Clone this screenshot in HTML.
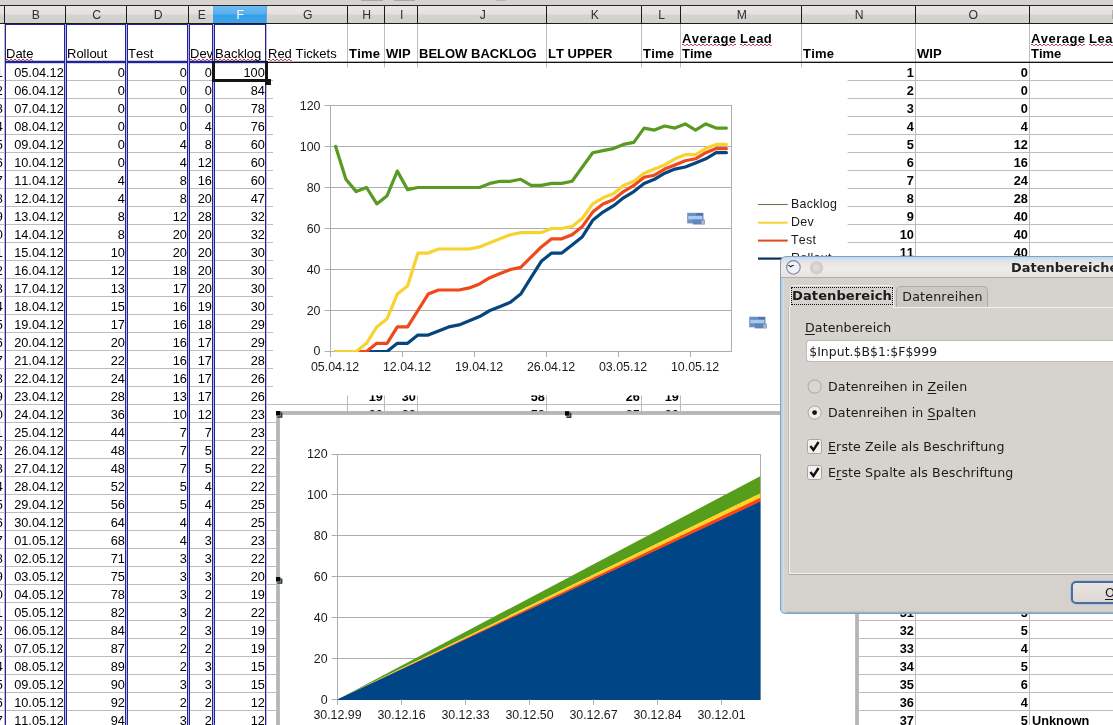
<!DOCTYPE html>
<html lang="de"><head><meta charset="utf-8"><title>Datenbereiche</title>
<style>
html,body{margin:0;padding:0;background:#fff;overflow:hidden}
body{width:1113px;height:725px}
#root{font-kerning:none;width:1113px;height:725px;overflow:hidden;position:relative;background:#fff;font-family:"Liberation Sans",sans-serif;font-size:13px;color:#000}
div,span{box-sizing:border-box}
.abs,.col,.hl,.vl,.hc,.h1,.bx{position:absolute}
.col{top:63.5px;text-align:right;white-space:nowrap;overflow:hidden;font-size:12.75px}
.col div{height:18px;line-height:18px;padding-right:1.2px}
.col.b{font-weight:bold}
.col.l{text-align:left}
.col.l div{padding-left:2px}
.hl{left:0;width:1113px;height:1px;background:#bdbdbd}
.vl{top:24px;width:1px;height:701px;background:#bdbdbd}
.hc{top:6px;height:17px;line-height:19.4px;text-align:center;color:#303030;font-size:12.2px;padding-left:1.5px;background:linear-gradient(#e9e6e3 0,#e4e1de 45%,#d3d3cf 55%,#d0d0cc 100%);border-right:1px solid #1c1c1c}
.h1{top:24px;height:37px;white-space:nowrap;overflow:hidden;font-weight:bold;padding-left:2px}
.h1 span{position:absolute;left:1px;bottom:0;line-height:15px}
.h1 span span{position:static}
.h1.n{font-weight:normal}
.w{background:repeating-linear-gradient(90deg,#b8324e 0 2px,transparent 2px 4px) 0 13px/100% 1px no-repeat,repeating-linear-gradient(90deg,transparent 0 2px,#c86078 2px 4px) 0 14px/100% 1px no-repeat}
.bx{border:1px solid #22229a}
#dlg{position:absolute;left:780px;top:256px;width:400px;height:358px;font-family:"DejaVu Sans",sans-serif;font-size:12.6px;color:#1a1a1a}
#dlg .abs{white-space:nowrap}
u{text-decoration-thickness:1px;text-underline-offset:2px}
</style></head><body><div id="root">

<div class="hl" style="top:80px"></div>
<div class="hl" style="top:98px"></div>
<div class="hl" style="top:116px"></div>
<div class="hl" style="top:134px"></div>
<div class="hl" style="top:152px"></div>
<div class="hl" style="top:170px"></div>
<div class="hl" style="top:188px"></div>
<div class="hl" style="top:206px"></div>
<div class="hl" style="top:224px"></div>
<div class="hl" style="top:242px"></div>
<div class="hl" style="top:260px"></div>
<div class="hl" style="top:278px"></div>
<div class="hl" style="top:296px"></div>
<div class="hl" style="top:314px"></div>
<div class="hl" style="top:332px"></div>
<div class="hl" style="top:350px"></div>
<div class="hl" style="top:368px"></div>
<div class="hl" style="top:386px"></div>
<div class="hl" style="top:404px"></div>
<div class="hl" style="top:422px"></div>
<div class="hl" style="top:440px"></div>
<div class="hl" style="top:458px"></div>
<div class="hl" style="top:476px"></div>
<div class="hl" style="top:494px"></div>
<div class="hl" style="top:512px"></div>
<div class="hl" style="top:530px"></div>
<div class="hl" style="top:548px"></div>
<div class="hl" style="top:566px"></div>
<div class="hl" style="top:584px"></div>
<div class="hl" style="top:602px"></div>
<div class="hl" style="top:620px"></div>
<div class="hl" style="top:638px"></div>
<div class="hl" style="top:656px"></div>
<div class="hl" style="top:674px"></div>
<div class="hl" style="top:692px"></div>
<div class="hl" style="top:710px"></div>
<div class="hl" style="top:728px"></div>
<div class="vl" style="left:4px"></div>
<div class="vl" style="left:65px"></div>
<div class="vl" style="left:126px"></div>
<div class="vl" style="left:188px"></div>
<div class="vl" style="left:213px"></div>
<div class="vl" style="left:266px"></div>
<div class="vl" style="left:347px"></div>
<div class="vl" style="left:384px"></div>
<div class="vl" style="left:417px"></div>
<div class="vl" style="left:546px"></div>
<div class="vl" style="left:641px"></div>
<div class="vl" style="left:680px"></div>
<div class="vl" style="left:801px"></div>
<div class="vl" style="left:915px"></div>
<div class="vl" style="left:1029px"></div>
<div class="h1 n" style="left:5px;width:60px"><span class="w">Date</span></div>
<div class="h1 n" style="left:66px;width:60px"><span class="">Rollout</span></div>
<div class="h1 n" style="left:127px;width:61px"><span class="">Test</span></div>
<div class="h1 n" style="left:189px;width:24px"><span class="w">Dev</span></div>
<div class="h1 n" style="left:214px;width:52px"><span class="w">Backlog</span></div>
<div class="h1 n" style="left:267px;width:80px"><span class=""><span class="w" style="position:static">Red</span> Tickets</span></div>
<div class="h1" style="left:348px;width:36px"><span class=""><span style="letter-spacing:.2px">Time</span></span></div>
<div class="h1" style="left:385px;width:32px"><span class="">WIP</span></div>
<div class="h1" style="left:418px;width:128px"><span class="">BELOW BACKLOG</span></div>
<div class="h1" style="left:547px;width:94px"><span class="">LT UPPER</span></div>
<div class="h1" style="left:642px;width:38px"><span class=""><span style="letter-spacing:.2px">Time</span></span></div>
<div class="h1" style="left:681px;width:120px"><span class=""><span class="w" style="letter-spacing:.45px">Average</span> <span class="w" style="letter-spacing:.45px">Lead</span><br>Time</span></div>
<div class="h1" style="left:802px;width:113px"><span class=""><span style="letter-spacing:.2px">Time</span></span></div>
<div class="h1" style="left:916px;width:113px"><span class="">WIP</span></div>
<div class="h1" style="left:1030px;width:170px"><span class=""><span class="w" style="letter-spacing:.45px">Average</span> <span class="w" style="letter-spacing:.45px">Lead</span><br>Time</span></div>
<div class="abs" style="left:267px;top:62px;width:846px;height:1px;background:#111"></div>
<div class="abs" style="left:267px;top:61px;width:846px;height:1px;background:rgba(0,0,0,.3)"></div>
<div class="col " style="left:-60px;width:64px"><div>1</div><div>2</div><div>3</div><div>4</div><div>5</div><div>6</div><div>7</div><div>8</div><div>9</div><div>10</div><div>11</div><div>12</div><div>13</div><div>14</div><div>15</div><div>16</div><div>17</div><div>18</div><div>19</div><div>20</div><div>21</div><div>22</div><div>23</div><div>24</div><div>25</div><div>26</div><div>27</div><div>28</div><div>29</div><div>30</div><div>31</div><div>32</div><div>33</div><div>34</div><div>35</div><div>36</div><div>37</div></div>
<div class="col " style="left:5px;width:60px"><div>05.04.12</div><div>06.04.12</div><div>07.04.12</div><div>08.04.12</div><div>09.04.12</div><div>10.04.12</div><div>11.04.12</div><div>12.04.12</div><div>13.04.12</div><div>14.04.12</div><div>15.04.12</div><div>16.04.12</div><div>17.04.12</div><div>18.04.12</div><div>19.04.12</div><div>20.04.12</div><div>21.04.12</div><div>22.04.12</div><div>23.04.12</div><div>24.04.12</div><div>25.04.12</div><div>26.04.12</div><div>27.04.12</div><div>28.04.12</div><div>29.04.12</div><div>30.04.12</div><div>01.05.12</div><div>02.05.12</div><div>03.05.12</div><div>04.05.12</div><div>05.05.12</div><div>06.05.12</div><div>07.05.12</div><div>08.05.12</div><div>09.05.12</div><div>10.05.12</div><div>11.05.12</div></div>
<div class="col " style="left:66px;width:60px"><div>0</div><div>0</div><div>0</div><div>0</div><div>0</div><div>0</div><div>4</div><div>4</div><div>8</div><div>8</div><div>10</div><div>12</div><div>13</div><div>15</div><div>17</div><div>20</div><div>22</div><div>24</div><div>28</div><div>36</div><div>44</div><div>48</div><div>48</div><div>52</div><div>56</div><div>64</div><div>68</div><div>71</div><div>75</div><div>78</div><div>82</div><div>84</div><div>87</div><div>89</div><div>90</div><div>92</div><div>94</div></div>
<div class="col " style="left:127px;width:61px"><div>0</div><div>0</div><div>0</div><div>0</div><div>4</div><div>4</div><div>8</div><div>8</div><div>12</div><div>20</div><div>20</div><div>18</div><div>17</div><div>16</div><div>16</div><div>16</div><div>16</div><div>16</div><div>13</div><div>10</div><div>7</div><div>7</div><div>7</div><div>5</div><div>5</div><div>4</div><div>4</div><div>3</div><div>3</div><div>3</div><div>3</div><div>2</div><div>2</div><div>2</div><div>3</div><div>2</div><div>3</div></div>
<div class="col " style="left:189px;width:24px"><div>0</div><div>0</div><div>0</div><div>4</div><div>8</div><div>12</div><div>16</div><div>20</div><div>28</div><div>20</div><div>20</div><div>20</div><div>20</div><div>19</div><div>18</div><div>17</div><div>17</div><div>17</div><div>17</div><div>12</div><div>7</div><div>5</div><div>5</div><div>4</div><div>4</div><div>4</div><div>3</div><div>3</div><div>3</div><div>2</div><div>2</div><div>3</div><div>2</div><div>3</div><div>3</div><div>2</div><div>2</div></div>
<div class="col " style="left:214px;width:52px"><div>100</div><div>84</div><div>78</div><div>76</div><div>60</div><div>60</div><div>60</div><div>47</div><div>32</div><div>32</div><div>30</div><div>30</div><div>30</div><div>30</div><div>29</div><div>29</div><div>28</div><div>26</div><div>26</div><div>23</div><div>23</div><div>22</div><div>22</div><div>22</div><div>25</div><div>25</div><div>23</div><div>22</div><div>20</div><div>19</div><div>22</div><div>19</div><div>19</div><div>15</div><div>15</div><div>12</div><div>12</div></div>
<div class="col b" style="left:348px;width:36px"><div>1</div><div>2</div><div>3</div><div>4</div><div>5</div><div>6</div><div>7</div><div>8</div><div>9</div><div>10</div><div>11</div><div>12</div><div>13</div><div>14</div><div>15</div><div>16</div><div>17</div><div>18</div><div>19</div><div>20</div><div>21</div><div>22</div><div>23</div><div>24</div><div>25</div><div>26</div><div>27</div><div>28</div><div>29</div><div>30</div><div>31</div><div>32</div><div>33</div><div>34</div><div>35</div><div>36</div><div>37</div></div>
<div class="col b" style="left:385px;width:32px"><div>0</div><div>0</div><div>0</div><div>4</div><div>12</div><div>16</div><div>24</div><div>28</div><div>40</div><div>40</div><div>40</div><div>38</div><div>37</div><div>35</div><div>34</div><div>33</div><div>33</div><div>33</div><div>30</div><div>22</div><div>14</div><div>12</div><div>12</div><div>9</div><div>9</div><div>8</div><div>7</div><div>6</div><div>6</div><div>5</div><div>5</div><div>5</div><div>4</div><div>5</div><div>6</div><div>4</div><div>5</div></div>
<div class="col b" style="left:418px;width:128px"><div>0</div><div>0</div><div>0</div><div>4</div><div>12</div><div>16</div><div>28</div><div>32</div><div>48</div><div>48</div><div>50</div><div>50</div><div>50</div><div>50</div><div>51</div><div>53</div><div>55</div><div>57</div><div>58</div><div>58</div><div>58</div><div>60</div><div>60</div><div>61</div><div>65</div><div>72</div><div>75</div><div>77</div><div>81</div><div>83</div><div>87</div><div>89</div><div>91</div><div>94</div><div>96</div><div>96</div><div>99</div></div>
<div class="col b" style="left:547px;width:94px"><div>44</div><div>43</div><div>42</div><div>41</div><div>40</div><div>39</div><div>38</div><div>37</div><div>36</div><div>35</div><div>34</div><div>33</div><div>32</div><div>31</div><div>30</div><div>29</div><div>28</div><div>27</div><div>26</div><div>25</div><div>24</div><div>23</div><div>22</div><div>21</div><div>20</div><div>19</div><div>18</div><div>17</div><div>16</div><div>15</div><div>14</div><div>13</div><div>12</div><div>11</div><div>10</div><div>9</div><div>8</div></div>
<div class="col b" style="left:642px;width:38px"><div>1</div><div>2</div><div>3</div><div>4</div><div>5</div><div>6</div><div>7</div><div>8</div><div>9</div><div>10</div><div>11</div><div>12</div><div>13</div><div>14</div><div>15</div><div>16</div><div>17</div><div>18</div><div>19</div><div>20</div><div>21</div><div>22</div><div>23</div><div>24</div><div>25</div><div>26</div><div>27</div><div>28</div><div>29</div><div>30</div><div>31</div><div>32</div><div>33</div><div>34</div><div>35</div><div>36</div><div>37</div></div>
<div class="col b" style="left:802px;width:113px"><div>1</div><div>2</div><div>3</div><div>4</div><div>5</div><div>6</div><div>7</div><div>8</div><div>9</div><div>10</div><div>11</div><div>12</div><div>13</div><div>14</div><div>15</div><div>16</div><div>17</div><div>18</div><div>19</div><div>20</div><div>21</div><div>22</div><div>23</div><div>24</div><div>25</div><div>26</div><div>27</div><div>28</div><div>29</div><div>30</div><div>31</div><div>32</div><div>33</div><div>34</div><div>35</div><div>36</div><div>37</div></div>
<div class="col b" style="left:916px;width:113px"><div>0</div><div>0</div><div>0</div><div>4</div><div>12</div><div>16</div><div>24</div><div>28</div><div>40</div><div>40</div><div>40</div><div>38</div><div>37</div><div>35</div><div>34</div><div>33</div><div>33</div><div>33</div><div>30</div><div>22</div><div>14</div><div>12</div><div>12</div><div>9</div><div>9</div><div>8</div><div>7</div><div>6</div><div>6</div><div>5</div><div>5</div><div>5</div><div>4</div><div>5</div><div>6</div><div>4</div><div>5</div></div>
<div class="col b l" style="left:1030px;width:170px"><div>&nbsp;</div><div>&nbsp;</div><div>&nbsp;</div><div>&nbsp;</div><div>&nbsp;</div><div>&nbsp;</div><div>&nbsp;</div><div>&nbsp;</div><div>&nbsp;</div><div>&nbsp;</div><div>&nbsp;</div><div>&nbsp;</div><div>&nbsp;</div><div>&nbsp;</div><div>&nbsp;</div><div>&nbsp;</div><div>&nbsp;</div><div>&nbsp;</div><div>&nbsp;</div><div>&nbsp;</div><div>&nbsp;</div><div>&nbsp;</div><div>&nbsp;</div><div>&nbsp;</div><div>&nbsp;</div><div>&nbsp;</div><div>&nbsp;</div><div>&nbsp;</div><div>&nbsp;</div><div>&nbsp;</div><div>&nbsp;</div><div>&nbsp;</div><div>&nbsp;</div><div>&nbsp;</div><div>&nbsp;</div><div>&nbsp;</div><div>Unknown</div></div>
<div class="bx" style="left:5px;top:24px;width:60px;height:38px"></div>
<div class="bx" style="left:5px;top:62px;width:60px;height:700px"></div>
<div class="bx" style="left:66px;top:24px;width:60px;height:38px"></div>
<div class="bx" style="left:66px;top:62px;width:60px;height:700px"></div>
<div class="bx" style="left:127px;top:24px;width:61px;height:38px"></div>
<div class="bx" style="left:127px;top:62px;width:61px;height:700px"></div>
<div class="bx" style="left:189px;top:24px;width:24px;height:38px"></div>
<div class="bx" style="left:189px;top:62px;width:24px;height:700px"></div>
<div class="bx" style="left:214px;top:24px;width:52px;height:38px"></div>
<div class="bx" style="left:214px;top:62px;width:52px;height:700px"></div>
<div class="abs" style="left:5px;top:60px;width:261px;height:1px;background:rgba(60,60,170,.28)"></div><div class="abs" style="left:5px;top:63px;width:261px;height:1px;background:rgba(60,60,170,.22)"></div>
<div class="abs" style="left:65px;top:24px;width:1px;height:701px;background:#b4b4e6"></div>
<div class="abs" style="left:126px;top:24px;width:1px;height:701px;background:#b4b4e6"></div>
<div class="abs" style="left:188px;top:24px;width:1px;height:701px;background:#b4b4e6"></div>
<div class="abs" style="left:213px;top:24px;width:1px;height:701px;background:#b4b4e6"></div>
<div class="abs" style="left:212px;top:61px;width:56px;height:21px;border:3px solid #151515;border-top-width:1.5px"></div>
<div class="abs" style="left:265px;top:79px;width:6px;height:6px;background:#151515"></div>
<svg class="abs" style="left:0;top:0" width="1113" height="725" viewBox="0 0 1113 725" font-family="Liberation Sans, sans-serif" font-size="12.4" fill="#1a1a1a">
<defs><clipPath id="c1"><rect x="331" y="100" width="400" height="252"/></clipPath></defs>
<rect x="273" y="67.5" width="574.6" height="327.9" fill="#fff"/>
<line x1="324.7" y1="351.5" x2="731.5" y2="351.5" stroke="#adadad" stroke-width="1"/>
<text x="320.5" y="355.3" text-anchor="end">0</text>
<line x1="324.7" y1="310.5" x2="731.5" y2="310.5" stroke="#adadad" stroke-width="1"/>
<text x="320.5" y="315.3" text-anchor="end">20</text>
<line x1="324.7" y1="269.5" x2="731.5" y2="269.5" stroke="#adadad" stroke-width="1"/>
<text x="320.5" y="274.3" text-anchor="end">40</text>
<line x1="324.7" y1="228.5" x2="731.5" y2="228.5" stroke="#adadad" stroke-width="1"/>
<text x="320.5" y="233.3" text-anchor="end">60</text>
<line x1="324.7" y1="187.5" x2="731.5" y2="187.5" stroke="#adadad" stroke-width="1"/>
<text x="320.5" y="192.3" text-anchor="end">80</text>
<line x1="324.7" y1="146.5" x2="731.5" y2="146.5" stroke="#adadad" stroke-width="1"/>
<text x="320.5" y="151.3" text-anchor="end">100</text>
<line x1="324.7" y1="105.5" x2="731.5" y2="105.5" stroke="#adadad" stroke-width="1"/>
<text x="320.5" y="110.3" text-anchor="end">120</text>
<line x1="330.5" y1="105" x2="330.5" y2="357" stroke="#adadad" stroke-width="1"/>
<line x1="731.5" y1="105" x2="731.5" y2="352" stroke="#adadad" stroke-width="1"/>
<text x="335.1" y="370.6" text-anchor="middle">05.04.12</text>
<line x1="402.5" y1="351.5" x2="402.5" y2="357" stroke="#adadad" stroke-width="1"/>
<text x="407.1" y="370.6" text-anchor="middle">12.04.12</text>
<line x1="474.5" y1="351.5" x2="474.5" y2="357" stroke="#adadad" stroke-width="1"/>
<text x="479.1" y="370.6" text-anchor="middle">19.04.12</text>
<line x1="546.5" y1="351.5" x2="546.5" y2="357" stroke="#adadad" stroke-width="1"/>
<text x="551.1" y="370.6" text-anchor="middle">26.04.12</text>
<line x1="618.5" y1="351.5" x2="618.5" y2="357" stroke="#adadad" stroke-width="1"/>
<text x="623.1" y="370.6" text-anchor="middle">03.05.12</text>
<line x1="690.5" y1="351.5" x2="690.5" y2="357" stroke="#adadad" stroke-width="1"/>
<text x="695.1" y="370.6" text-anchor="middle">10.05.12</text>
<polyline points="335.6,351.5 345.9,351.5 356.2,351.5 366.5,351.5 376.8,351.5 387.1,351.5 397.3,343.3 407.6,343.3 417.9,335.1 428.2,335.1 438.5,331.0 448.7,326.9 459.0,324.9 469.3,320.8 479.6,316.6 489.9,310.5 500.2,306.4 510.4,302.3 520.7,294.1 531.0,277.7 541.3,261.3 551.6,253.1 561.8,253.1 572.1,244.9 582.4,236.7 592.7,220.3 603.0,212.1 613.3,205.9 623.5,197.8 633.8,191.6 644.1,183.4 654.4,179.3 664.7,173.2 674.9,169.1 685.2,167.0 695.5,162.9 705.8,158.8 716.1,152.7 726.4,152.7" fill="none" stroke="#05467f" stroke-width="3.2" stroke-linejoin="round" stroke-linecap="round" clip-path="url(#c1)"/>
<polyline points="335.6,351.5 345.9,351.5 356.2,351.5 366.5,351.5 376.8,343.3 387.1,343.3 397.3,326.9 407.6,326.9 417.9,310.5 428.2,294.1 438.5,290.0 448.7,290.0 459.0,290.0 469.3,287.9 479.6,283.9 489.9,277.7 500.2,273.6 510.4,269.5 520.7,267.4 531.0,257.2 541.3,246.9 551.6,238.8 561.8,238.8 572.1,234.7 582.4,226.4 592.7,212.1 603.0,203.9 613.3,199.8 623.5,191.6 633.8,185.4 644.1,177.2 654.4,175.2 664.7,169.1 674.9,164.9 685.2,160.8 695.5,158.8 705.8,152.7 716.1,148.6 726.4,148.6" fill="none" stroke="#f0481a" stroke-width="3.2" stroke-linejoin="round" stroke-linecap="round" clip-path="url(#c1)"/>
<polyline points="335.6,351.5 345.9,351.5 356.2,351.5 366.5,343.3 376.8,326.9 387.1,318.7 397.3,294.1 407.6,285.9 417.9,253.1 428.2,253.1 438.5,249.0 448.7,249.0 459.0,249.0 469.3,249.0 479.6,246.9 489.9,242.8 500.2,238.8 510.4,234.7 520.7,232.6 531.0,232.6 541.3,232.6 551.6,228.5 561.8,228.5 572.1,226.4 582.4,218.2 592.7,203.9 603.0,197.8 613.3,193.7 623.5,185.4 633.8,181.3 644.1,173.2 654.4,169.1 664.7,164.9 674.9,158.8 685.2,154.7 695.5,154.7 705.8,148.6 716.1,144.4 726.4,144.4" fill="none" stroke="#f7d230" stroke-width="3.2" stroke-linejoin="round" stroke-linecap="round" clip-path="url(#c1)"/>
<polyline points="335.6,146.5 345.9,179.3 356.2,191.6 366.5,187.5 376.8,203.9 387.1,195.7 397.3,171.1 407.6,189.6 417.9,187.5 428.2,187.5 438.5,187.5 448.7,187.5 459.0,187.5 469.3,187.5 479.6,187.5 489.9,183.4 500.2,181.3 510.4,181.3 520.7,179.3 531.0,185.4 541.3,185.4 551.6,183.4 561.8,183.4 572.1,181.3 582.4,167.0 592.7,152.7 603.0,150.6 613.3,148.6 623.5,144.4 633.8,142.4 644.1,128.1 654.4,130.1 664.7,126.0 674.9,128.1 685.2,123.9 695.5,130.1 705.8,123.9 716.1,128.1 726.4,128.1" fill="none" stroke="#599a22" stroke-width="3.2" stroke-linejoin="round" stroke-linecap="round" clip-path="url(#c1)"/>
<line x1="758" y1="204.5" x2="787.7" y2="204.5" stroke="#66784f" stroke-width="1.1"/>
<text x="791" y="208.2" letter-spacing=".3">Backlog</text>
<line x1="758" y1="222.7" x2="787.7" y2="222.7" stroke="#f6d235" stroke-width="2"/>
<text x="791" y="226.4" letter-spacing=".3">Dev</text>
<line x1="758" y1="240.6" x2="787.7" y2="240.6" stroke="#e0481c" stroke-width="2"/>
<text x="791" y="244.3" letter-spacing=".3">Test</text>
<line x1="758" y1="258.6" x2="787.7" y2="258.6" stroke="#06305f" stroke-width="2.2"/>
<text x="791" y="262.3" letter-spacing=".3">Rollout</text>
<g transform="translate(687.2,212.8)"><rect x="0" y="0" width="16.3" height="10.6" fill="#6d90c0"/><rect x="1" y="3.2" width="14" height="3.4" fill="#a9c9ee"/><rect x="9" y="0.6" width="6.5" height="1.8" fill="#4a6ea5"/><rect x="5.6" y="6.9" width="12" height="4.8" fill="#5f86bb"/><rect x="14.2" y="7.6" width="3" height="3.6" fill="#b7b3c6"/></g>
<g transform="translate(749.2,316.7)"><rect x="0" y="0" width="16.3" height="10.6" fill="#6d90c0"/><rect x="1" y="3.2" width="14" height="3.4" fill="#a9c9ee"/><rect x="9" y="0.6" width="6.5" height="1.8" fill="#4a6ea5"/><rect x="5.6" y="6.9" width="12" height="4.8" fill="#5f86bb"/><rect x="14.2" y="7.6" width="3" height="3.6" fill="#b7b3c6"/></g>
<rect x="278" y="413" width="579" height="340" fill="#fff" stroke="#b6b6b6" stroke-width="3.8"/>
<line x1="331.6" y1="699.5" x2="760.2" y2="699.5" stroke="#adadad" stroke-width="1"/>
<text x="327.6" y="704.3" text-anchor="end">0</text>
<line x1="331.6" y1="658.5" x2="760.2" y2="658.5" stroke="#adadad" stroke-width="1"/>
<text x="327.6" y="663.3" text-anchor="end">20</text>
<line x1="331.6" y1="617.5" x2="760.2" y2="617.5" stroke="#adadad" stroke-width="1"/>
<text x="327.6" y="622.3" text-anchor="end">40</text>
<line x1="331.6" y1="576.5" x2="760.2" y2="576.5" stroke="#adadad" stroke-width="1"/>
<text x="327.6" y="581.3" text-anchor="end">60</text>
<line x1="331.6" y1="535.5" x2="760.2" y2="535.5" stroke="#adadad" stroke-width="1"/>
<text x="327.6" y="540.3" text-anchor="end">80</text>
<line x1="331.6" y1="494.5" x2="760.2" y2="494.5" stroke="#adadad" stroke-width="1"/>
<text x="327.6" y="499.3" text-anchor="end">100</text>
<line x1="331.6" y1="454.5" x2="760.2" y2="454.5" stroke="#adadad" stroke-width="1"/>
<text x="327.6" y="458.3" text-anchor="end">120</text>
<line x1="337.5" y1="454" x2="337.5" y2="705" stroke="#adadad" stroke-width="1"/>
<line x1="760.5" y1="454" x2="760.5" y2="700" stroke="#adadad" stroke-width="1"/>
<polygon points="337.5,699.5 760.2,476.2 760.2,493.4" fill="#579d1c"/>
<polygon points="337.5,699.5 760.2,493.4 760.2,497.8" fill="#ffd320"/>
<polygon points="337.5,699.5 760.2,497.8 760.2,501.8" fill="#ff420e"/>
<polygon points="337.5,699.5 760.2,501.8 760.2,699.5" fill="#004586"/>
<polygon points="337.5,699.5 760.2,501.8 760.2,700 337.5,700" fill="#004586"/>
<line x1="337.5" y1="699.5" x2="337.5" y2="705" stroke="#adadad" stroke-width="1"/>
<text x="337.5" y="719.3" text-anchor="middle">30.12.99</text>
<line x1="401.5" y1="699.5" x2="401.5" y2="705" stroke="#adadad" stroke-width="1"/>
<text x="401.5" y="719.3" text-anchor="middle">30.12.16</text>
<line x1="465.5" y1="699.5" x2="465.5" y2="705" stroke="#adadad" stroke-width="1"/>
<text x="465.5" y="719.3" text-anchor="middle">30.12.33</text>
<line x1="529.5" y1="699.5" x2="529.5" y2="705" stroke="#adadad" stroke-width="1"/>
<text x="529.5" y="719.3" text-anchor="middle">30.12.50</text>
<line x1="593.5" y1="699.5" x2="593.5" y2="705" stroke="#adadad" stroke-width="1"/>
<text x="593.5" y="719.3" text-anchor="middle">30.12.67</text>
<line x1="657.5" y1="699.5" x2="657.5" y2="705" stroke="#adadad" stroke-width="1"/>
<text x="657.5" y="719.3" text-anchor="middle">30.12.84</text>
<line x1="721.5" y1="699.5" x2="721.5" y2="705" stroke="#adadad" stroke-width="1"/>
<text x="721.5" y="719.3" text-anchor="middle">30.12.01</text>
<rect x="277.4" y="412.6" width="5" height="5.2" fill="#234223"/><rect x="277.4" y="412.6" width="3.6" height="3.8" fill="#9ab09a"/><rect x="276" y="411" width="4.4" height="4.4" fill="#050505"/>
<rect x="566.4" y="412.8" width="5" height="5.2" fill="#234223"/><rect x="566.4" y="412.8" width="3.6" height="3.8" fill="#9ab09a"/><rect x="565" y="411.2" width="4.4" height="4.4" fill="#050505"/>
<rect x="277.4" y="578.6" width="5" height="5.2" fill="#234223"/><rect x="277.4" y="578.6" width="3.6" height="3.8" fill="#9ab09a"/><rect x="276" y="577" width="4.4" height="4.4" fill="#050505"/>
</svg>
<div id="dlg">
<div class="abs" style="left:0;top:0;width:400px;height:357.5px;background:#d5d1cd;border:1px solid #86a0b8;border-radius:6px 0 0 5px;box-shadow:inset 2px 0 0 #bcd2e6, inset 3px 0 0 #d3dde6, inset 0 -1px 0 #a3b2ba, inset 0 -2px 0 #c3c8ca"></div>
<div class="abs" style="left:1px;top:1px;width:399px;height:21px;border-radius:5px 0 0 0;background:linear-gradient(#bcd9f3 0,#d6e2ee 14%,#ebe6e3 32%,#f0ecea 60%,#e6e2df 100%);border-bottom:1px solid #b1aeab"></div>
<svg class="abs" style="left:5px;top:3px" width="40" height="18" viewBox="0 0 40 18"><circle cx="8.4" cy="8.4" r="6.8" fill="#eef0fa" stroke="#7c879c" stroke-width="1.1"/><path d="M2.6 6.2 Q4.4 5.6 5.6 7.2 Q6.8 5.6 9.6 6.2 Q7 7 5.6 8.6 Q4.6 7 2.6 6.2Z" fill="#15151a"/><circle cx="31.5" cy="8.8" r="6.8" fill="#d3cec9"/><circle cx="31.5" cy="8.8" r="3.4" fill="#dfdad6"/></svg>
<div class="abs" style="left:231px;top:3.8px;font-weight:bold;font-size:12.9px;letter-spacing:.05px;color:#222">Datenbereiche</div>
<div class="abs" style="left:9px;top:51px;width:400px;height:267px;background:#d6d2ce;border:1px solid #f4f2f0;border-right:0;box-shadow:0 1px 0 #a8a5a2,-1px 0 0 #bdb9b5"></div>
<div class="abs" style="left:116px;top:30px;width:92px;height:21px;background:#ccc8c4;border:1px solid #aeaaa6;border-bottom:0;border-radius:5px 5px 0 0;text-align:center;line-height:19.5px;font-size:12.6px;letter-spacing:.2px;padding-left:1px">Datenreihen</div>
<div class="abs" style="left:10px;top:29px;width:104px;height:23px;background:#d6d2ce;border:1px solid #f4f2f0;border-bottom:0;border-radius:5px 5px 0 0"></div>
<div class="abs" style="left:11px;top:30.6px;width:102px;height:18.8px;border:1px dotted #111;font-weight:bold;font-size:13.1px;line-height:16.3px;text-align:center;letter-spacing:.05px">Datenbereich</div>
<div class="abs" style="left:25px;top:63.8px;line-height:16px;letter-spacing:.1px"><u>D</u>atenbereich</div>
<div class="abs" style="left:26px;top:84px;width:380px;height:22px;background:#fff;border:1px solid #bfbbb7;border-right:0;border-radius:4px 0 0 4px;line-height:21.6px;padding-left:2.2px;font-size:12.4px;letter-spacing:.07px">$Input.$B$1:$F$999</div>
<svg class="abs" style="left:26px;top:122px" width="18" height="45" viewBox="0 0 18 45"><circle cx="8.6" cy="8.6" r="6.6" fill="#dad6d2" stroke="#aaa6a2" stroke-width="1"/><circle cx="8.6" cy="34.6" r="6.6" fill="#eeecea" stroke="#aaa6a2" stroke-width="1"/><circle cx="8.6" cy="34.6" r="2.4" fill="#111"/></svg>
<div class="abs" style="left:48px;top:122px;line-height:17px;letter-spacing:.12px">Datenreihen in <u>Z</u>eilen</div>
<div class="abs" style="left:48px;top:148px;line-height:17px;letter-spacing:.12px">Datenreihen in <u>S</u>palten</div>
<svg class="abs" style="left:27px;top:183px" width="16" height="42" viewBox="0 0 16 42"><rect x=".5" y=".5" width="14" height="14" rx="2" fill="#f3f1ef" stroke="#a9a5a1"/><path d="M3.4 7 L6.4 11 L11.6 3" fill="none" stroke="#111" stroke-width="2.4"/><rect x=".5" y="26.5" width="14" height="14" rx="2" fill="#f3f1ef" stroke="#a9a5a1"/><path d="M3.4 33 L6.4 37 L11.6 29" fill="none" stroke="#111" stroke-width="2.4"/></svg>
<div class="abs" style="left:48px;top:182px;line-height:17px;letter-spacing:.12px"><u>E</u>rste Zeile als Beschriftung</div>
<div class="abs" style="left:48px;top:208px;line-height:17px;letter-spacing:.12px">E<u>r</u>ste Spalte als Beschriftung</div>
<div class="abs" style="left:291px;top:325px;width:120px;height:23px;border:2px solid #4a6c9e;border-radius:5px;background:linear-gradient(#e9e5e2,#dcd7d3);box-shadow:0 0 0 1px #b5c3d6;line-height:20px;padding-left:32px"><u>O</u>K</div>
</div>
<div class="abs" style="left:0;top:0;width:1113px;height:5px;background:#d6d2ce"></div>
<div class="abs" style="left:361px;top:0;width:22px;height:1px;background:#aaa6a2"></div><div class="abs" style="left:394px;top:0;width:21px;height:1px;background:#aaa6a2"></div><div class="abs" style="left:496px;top:0;width:10px;height:1px;background:#bab6b2"></div>
<div class="abs" style="left:0;top:5px;width:1113px;height:1px;background:#262626"></div>
<div class="abs" style="left:0;top:23px;width:1113px;height:1px;background:#1c1c1c"></div>
<div class="hc" style="left:0px;width:5px;"></div>
<div class="hc" style="left:5px;width:61px;">B</div>
<div class="hc" style="left:66px;width:61px;">C</div>
<div class="hc" style="left:127px;width:62px;">D</div>
<div class="hc" style="left:189px;width:24px;border-right:0;">E</div>
<div class="hc" style="left:213px;width:54px;background:linear-gradient(#6cbbf2 0,#58b0ef 45%,#359fe8 55%,#3ea4ea 100%);color:#fff;border-right-color:#62a9dc;">F</div>
<div class="hc" style="left:267px;width:81px;">G</div>
<div class="hc" style="left:348px;width:37px;">H</div>
<div class="hc" style="left:385px;width:33px;">I</div>
<div class="hc" style="left:418px;width:129px;">J</div>
<div class="hc" style="left:547px;width:95px;">K</div>
<div class="hc" style="left:642px;width:39px;">L</div>
<div class="hc" style="left:681px;width:121px;">M</div>
<div class="hc" style="left:802px;width:114px;">N</div>
<div class="hc" style="left:916px;width:114px;">O</div>
<div class="hc" style="left:1030px;width:171px;">P</div>
</div></body></html>
